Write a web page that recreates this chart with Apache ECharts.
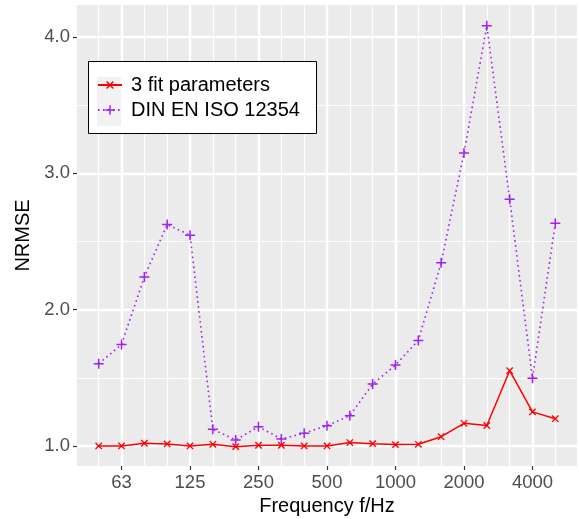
<!DOCTYPE html>
<html>
<head>
<meta charset="utf-8" />
<title>NRMSE</title>
<script src="https://cdn.jsdelivr.net/npm/echarts@6/dist/echarts.min.js"></script>
<style>
  html, body { margin: 0; padding: 0; background: #fff; }
  #chart { width: 579px; height: 519px; }
</style>
</head>
<body>
<div id="chart"></div>
<script>
// third-octave bands, evenly spaced on the x axis
const freqs = ['50', '63', '80', '100', '125', '160', '200', '250', '315', '400', '500',
  '630', '800', '1000', '1250', '1600', '2000', '2500', '3150', '4000', '5000'];
const labelFreqs = ['63', '125', '250', '500', '1000', '2000', '4000'];
const fitValues = [1.00, 1.00, 1.02, 1.015, 1.00, 1.012, 0.995, 1.005, 1.005, 1.00, 1.00,
  1.025, 1.017, 1.01, 1.012, 1.068, 1.166, 1.15, 1.552, 1.25, 1.20];
const isoValues = [1.603, 1.745, 2.24, 2.624, 2.546, 1.122, 1.044, 1.141, 1.051, 1.093, 1.149,
  1.222, 1.454, 1.593, 1.774, 2.343, 3.149, 4.082, 2.81, 1.496, 2.634];
const yMajor = [1, 2, 3, 4];
const yMinor = [1.5, 2.5, 3.5];

const majorIdx = labelFreqs.map(f => freqs.indexOf(f));
const minorIdx = freqs.map((f, i) => i).filter(i => majorIdx.indexOf(i) < 0);

const plusPath = 'path://M4.25,0h1.5v10h-1.5zM0,4.25h10v1.5h-10z';

const chart = echarts.init(document.getElementById('chart'), null, { renderer: 'canvas' });

// white panel grid, ggplot style
const gridLines = [].concat(
  minorIdx.map(i => ({ xAxis: i, lineStyle: { width: 1.2 } })),
  yMinor.map(v => ({ yAxis: v, lineStyle: { width: 1.2 } })),
  majorIdx.map(i => ({ xAxis: i, lineStyle: { width: 2.4 } })),
  yMajor.map(v => ({ yAxis: v, lineStyle: { width: 2.4 } }))
);

const tickStyle = { show: true, length: 4, lineStyle: { color: '#333', width: 1.2 } };
const labelStyle = { margin: 7, color: '#4d4d4d', fontSize: 18.5, fontFamily: 'Liberation Sans' };
const titleStyle = { color: '#000', fontSize: 20, fontFamily: 'Liberation Sans' };

chart.setOption({
  animation: false,
  backgroundColor: '#ffffff',
  grid: {
    left: 77, right: 2, top: 5, bottom: 53, outerBoundsMode: 'none', containLabel: false,
    show: true, backgroundColor: '#ebebeb', borderWidth: 0
  },
  xAxis: {
    type: 'value', min: -0.95, max: 20.95,
    name: 'Frequency f/Hz', nameLocation: 'middle', nameGap: 30, nameTextStyle: titleStyle,
    axisLine: { show: false, onZero: false },
    axisTick: Object.assign({ customValues: majorIdx }, tickStyle),
    axisLabel: Object.assign({ customValues: majorIdx, formatter: v => freqs[Math.round(v)] }, labelStyle),
    splitLine: { show: false }
  },
  yAxis: {
    type: 'value', min: 0.853, max: 4.234,
    name: 'NRMSE', nameLocation: 'middle', nameRotate: 90, nameGap: 40, nameTextStyle: titleStyle,
    axisLine: { show: false, onZero: false },
    axisTick: Object.assign({ customValues: yMajor }, tickStyle),
    axisLabel: Object.assign({ customValues: yMajor, formatter: v => v.toFixed(1) }, labelStyle),
    splitLine: { show: false }
  },
  legend: {
    orient: 'vertical', left: 88, top: 61, z: 10,
    padding: [14, 12, 14, 9], itemGap: 5, itemWidth: 24, itemHeight: 12,
    textStyle: { color: '#000', fontSize: 20, fontFamily: 'Liberation Sans', padding: [0, 0, 0, 4] },
    data: ['3 fit parameters', 'DIN EN ISO 12354']
  },
  graphic: [
    { type: 'rect', z: 8, shape: { x: 88.5, y: 61.5, width: 228, height: 72 },
      style: { fill: '#fff', stroke: '#000', lineWidth: 1 } },
    { type: 'rect', z: 9, shape: { x: 97, y: 77, width: 24, height: 49 },
      style: { fill: '#f2f2f2' } }
  ],
  series: [{
    name: 'grid', type: 'line', data: [], z: 1, silent: true,
    markLine: {
      z: 1, silent: true, symbol: 'none', animation: false,
      label: { show: false },
      lineStyle: { color: '#ffffff', type: 'solid' },
      data: gridLines
    }
  }, {
    name: '3 fit parameters', type: 'line', z: 3,
    data: fitValues.map((v, i) => [i, v]),
    symbol: plusPath, symbolRotate: 45, symbolSize: 9,
    itemStyle: { color: '#ff0000' },
    lineStyle: { color: '#ff0000', width: 1.5 }
  }, {
    name: 'DIN EN ISO 12354', type: 'line', z: 2,
    data: isoValues.map((v, i) => [i, v]),
    symbol: plusPath, symbolSize: 10,
    itemStyle: { color: '#a020f0' },
    lineStyle: { color: '#a020f0', width: 1.6, type: [1.6, 3.4], cap: 'butt' }
  }]
});
</script>
</body>
</html>
